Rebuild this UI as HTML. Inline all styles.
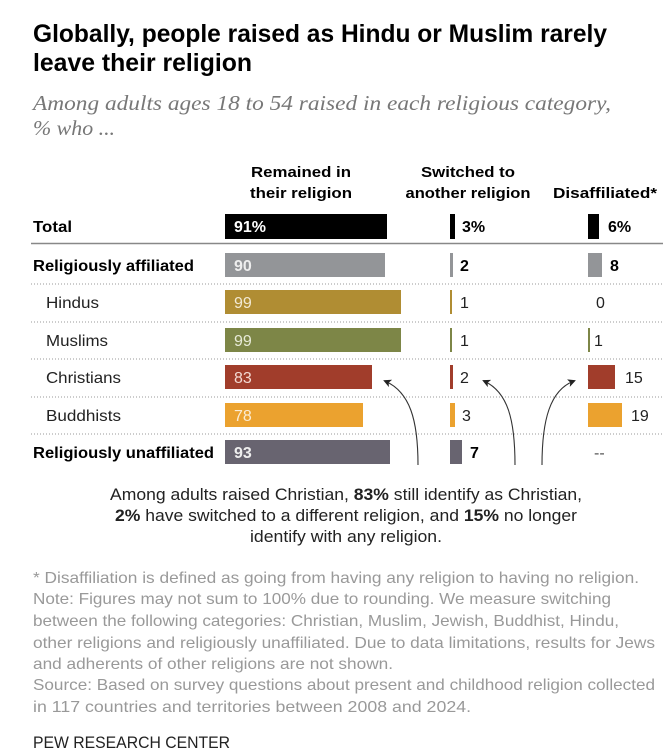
<!DOCTYPE html>
<html><head><meta charset="utf-8"><style>
html,body{margin:0;padding:0;background:#fff;}
svg{display:block;}
text{font-family:"Liberation Sans",sans-serif;}
</style></head><body>
<svg width="663" height="756" viewBox="0 0 663 756" xmlns="http://www.w3.org/2000/svg">
<defs><marker id="ah" markerWidth="8" markerHeight="8" refX="6" refY="4" orient="auto" markerUnits="userSpaceOnUse"><path d="M0,0 L8,4 L0,8 L2,4 Z" fill="#222"/></marker></defs>
<text x="33" y="42" font-size="25" font-weight="bold" fill="#000" textLength="574" lengthAdjust="spacingAndGlyphs">Globally, people raised as Hindu or Muslim rarely</text>
<text x="33" y="71" font-size="25" font-weight="bold" fill="#000" textLength="219" lengthAdjust="spacingAndGlyphs">leave their religion</text>
<text x="33" y="110" font-size="21" font-style="italic" fill="#777" style="font-family:'Liberation Serif',serif" textLength="578" lengthAdjust="spacingAndGlyphs">Among adults ages 18 to 54 raised in each religious category,</text>
<text x="33" y="135" font-size="21" font-style="italic" fill="#777" style="font-family:'Liberation Serif',serif" textLength="82" lengthAdjust="spacingAndGlyphs">% who ...</text>

<g font-size="15" font-weight="bold" fill="#000" text-anchor="middle">
<text x="301" y="177" textLength="100" lengthAdjust="spacingAndGlyphs">Remained in</text>
<text x="301" y="198" textLength="102" lengthAdjust="spacingAndGlyphs">their religion</text>
<text x="468" y="177" textLength="94" lengthAdjust="spacingAndGlyphs">Switched to</text>
<text x="468" y="198" textLength="125" lengthAdjust="spacingAndGlyphs">another religion</text>
<text x="605" y="198" textLength="104" lengthAdjust="spacingAndGlyphs">Disaffiliated*</text>
</g>

<line x1="31" y1="243.5" x2="663" y2="243.5" stroke="#888" stroke-width="1.5"/>
<g stroke="#999" stroke-width="1" stroke-dasharray="1,2">
<line x1="31" y1="284" x2="663" y2="284"/>
<line x1="31" y1="322" x2="663" y2="322"/>
<line x1="31" y1="359" x2="663" y2="359"/>
<line x1="31" y1="397" x2="663" y2="397"/>
<line x1="31" y1="434" x2="663" y2="434"/>
</g>

<g font-size="16">
<text x="33" y="232" font-weight="bold" textLength="39" lengthAdjust="spacingAndGlyphs">Total</text>
<text x="33" y="271" font-weight="bold" textLength="161" lengthAdjust="spacingAndGlyphs">Religiously affiliated</text>
<text x="46" y="308" fill="#222" textLength="53" lengthAdjust="spacingAndGlyphs">Hindus</text>
<text x="46" y="346" fill="#222" textLength="62" lengthAdjust="spacingAndGlyphs">Muslims</text>
<text x="46" y="383" fill="#222" textLength="75" lengthAdjust="spacingAndGlyphs">Christians</text>
<text x="46" y="421" fill="#222" textLength="75" lengthAdjust="spacingAndGlyphs">Buddhists</text>
<text x="33" y="458" font-weight="bold" textLength="181" lengthAdjust="spacingAndGlyphs">Religiously unaffiliated</text>
</g>

<rect x="225" y="214" width="162" height="25" fill="#000"/>
<rect x="225" y="253" width="160" height="24" fill="#939598"/>
<rect x="225" y="290" width="176" height="24" fill="#b08d33"/>
<rect x="225" y="328" width="176" height="24" fill="#7d8647"/>
<rect x="225" y="365" width="147" height="24" fill="#a13d2b"/>
<rect x="225" y="403" width="138" height="24" fill="#eba22f"/>
<rect x="225" y="440" width="165" height="24" fill="#686470"/>
<g font-size="16" fill="#fff">
<text x="234" y="232" font-weight="bold">91%</text>
<text x="234" y="271" font-weight="bold" fill="#eee">90</text>
<text x="234" y="308" fill="#f2ead4">99</text>
<text x="234" y="346" fill="#e8ebd8">99</text>
<text x="234" y="383" fill="#f3d9d2">83</text>
<text x="234" y="421" fill="#fbecd3">78</text>
<text x="234" y="458" font-weight="bold" fill="#eee">93</text>
</g>

<rect x="450" y="214" width="5" height="25" fill="#000"/>
<rect x="450" y="253" width="3" height="24" fill="#939598"/>
<rect x="450" y="290" width="2" height="24" fill="#b08d33"/>
<rect x="450" y="328" width="2" height="24" fill="#7d8647"/>
<rect x="450" y="365" width="3" height="24" fill="#a13d2b"/>
<rect x="450" y="403" width="5" height="24" fill="#eba22f"/>
<rect x="450" y="440" width="12" height="24" fill="#686470"/>
<g font-size="16" fill="#222">
<text x="462" y="232" font-weight="bold" fill="#000">3%</text>
<text x="460" y="271" font-weight="bold" fill="#000">2</text>
<text x="460" y="308">1</text>
<text x="460" y="346">1</text>
<text x="460" y="383">2</text>
<text x="462" y="421">3</text>
<text x="470" y="458" font-weight="bold" fill="#000">7</text>
</g>

<rect x="588" y="214" width="11" height="25" fill="#000"/>
<rect x="588" y="253" width="14" height="24" fill="#939598"/>
<rect x="588" y="328" width="2" height="24" fill="#7d8647"/>
<rect x="588" y="365" width="27" height="24" fill="#a13d2b"/>
<rect x="588" y="403" width="34" height="24" fill="#eba22f"/>
<g font-size="16" fill="#222">
<text x="608" y="232" font-weight="bold" fill="#000">6%</text>
<text x="610" y="271" font-weight="bold" fill="#000">8</text>
<text x="596" y="308">0</text>
<text x="594" y="346">1</text>
<text x="625" y="383">15</text>
<text x="631" y="421">19</text>
<text x="594" y="458" fill="#555">--</text>
</g>

<g fill="none" stroke="#333" stroke-width="1.1">
<path d="M418,465 C418,420 410,392 385,381" marker-end="url(#ah)"/>
<path d="M515,465 C515,420 508,392 484,381" marker-end="url(#ah)"/>
<path d="M542,465 C542,420 550,390 574,381" marker-end="url(#ah)"/>
</g>

<g font-size="16.5" fill="#222" text-anchor="middle">
<text x="346" y="500" textLength="472" lengthAdjust="spacingAndGlyphs">Among adults raised Christian, <tspan font-weight="bold">83%</tspan> still identify as Christian,</text>
<text x="346" y="521" textLength="462" lengthAdjust="spacingAndGlyphs"><tspan font-weight="bold">2%</tspan> have switched to a different religion, and <tspan font-weight="bold">15%</tspan> no longer</text>
<text x="346" y="542" textLength="192" lengthAdjust="spacingAndGlyphs">identify with any religion.</text>
</g>

<g font-size="16" fill="#999">
<text x="33" y="583" textLength="606" lengthAdjust="spacingAndGlyphs">* Disaffiliation is defined as going from having any religion to having no religion.</text>
<text x="33" y="604" textLength="578" lengthAdjust="spacingAndGlyphs">Note: Figures may not sum to 100% due to rounding. We measure switching</text>
<text x="33" y="626" textLength="586" lengthAdjust="spacingAndGlyphs">between the following categories: Christian, Muslim, Jewish, Buddhist, Hindu,</text>
<text x="33" y="648" textLength="622" lengthAdjust="spacingAndGlyphs">other religions and religiously unaffiliated. Due to data limitations, results for Jews</text>
<text x="33" y="669" textLength="360" lengthAdjust="spacingAndGlyphs">and adherents of other religions are not shown.</text>
<text x="33" y="690" textLength="622" lengthAdjust="spacingAndGlyphs">Source: Based on survey questions about present and childhood religion collected</text>
<text x="33" y="712" textLength="438" lengthAdjust="spacingAndGlyphs">in 117 countries and territories between 2008 and 2024.</text>
</g>
<text x="33" y="748" font-size="16.5" fill="#222" textLength="197" lengthAdjust="spacingAndGlyphs">PEW RESEARCH CENTER</text>
</svg>
</body></html>
